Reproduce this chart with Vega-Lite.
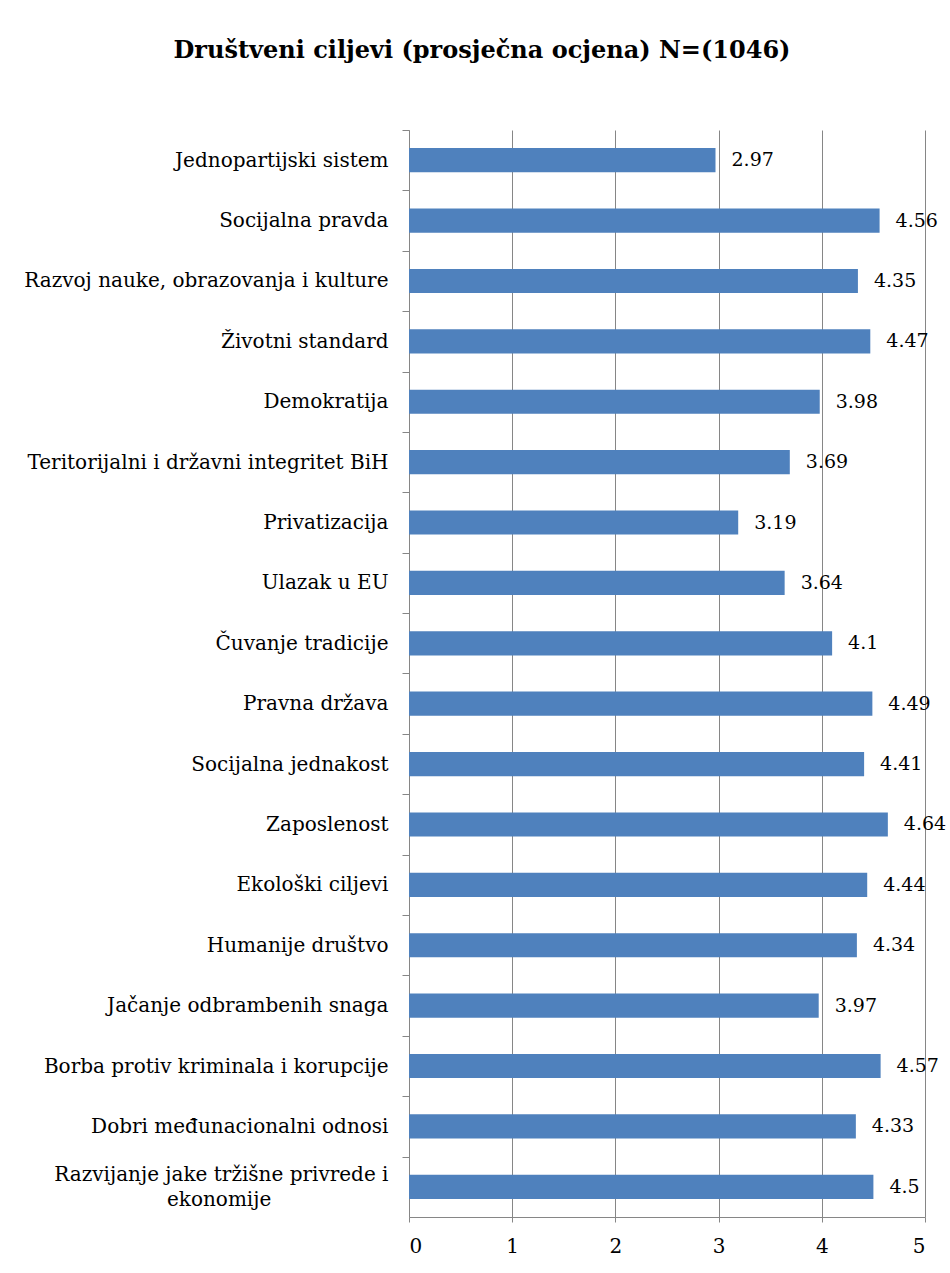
{
  "$schema": "https://vega.github.io/schema/vega-lite/v6.json",
  "width": 516,
  "height": 1087,
  "autosize": {"type": "none"},
  "padding": {"left": 409, "top": 130, "right": 25, "bottom": 56},
  "background": "white",
  "title": {
    "text": "Društveni  ciljevi (prosječna ocjena) N=(1046)",
    "font": "DejaVu Serif",
    "fontSize": 24,
    "fontWeight": "bold",
    "color": "black",
    "anchor": "middle",
    "dx": -185,
    "offset": 43,
    "baseline": "bottom"
  },
  "data": {
    "values": [
      {"goal": "Jednopartijski sistem", "value": 2.97},
      {"goal": "Socijalna pravda", "value": 4.56},
      {"goal": "Razvoj nauke, obrazovanja i kulture", "value": 4.35},
      {"goal": "Životni standard", "value": 4.47},
      {"goal": "Demokratija", "value": 3.98},
      {"goal": "Teritorijalni i državni integritet BiH", "value": 3.69},
      {"goal": "Privatizacija", "value": 3.19},
      {"goal": "Ulazak u EU", "value": 3.64},
      {"goal": "Čuvanje tradicije", "value": 4.1},
      {"goal": "Pravna država", "value": 4.49},
      {"goal": "Socijalna jednakost", "value": 4.41},
      {"goal": "Zaposlenost", "value": 4.64},
      {"goal": "Ekološki ciljevi", "value": 4.44},
      {"goal": "Humanije društvo", "value": 4.34},
      {"goal": "Jačanje odbrambenih  snaga", "value": 3.97},
      {"goal": "Borba protiv kriminala i korupcije", "value": 4.57},
      {"goal": "Dobri međunacionalni odnosi", "value": 4.33},
      {"goal": "Razvijanje jake tržišne privrede i ekonomije", "value": 4.5}
    ]
  },
  "encoding": {
    "y": {
      "field": "goal",
      "type": "nominal",
      "sort": null,
      "scale": {"paddingInner": 0.6, "paddingOuter": 0.3},
      "axis": {
        "title": null,
        "tickOffset": -30.2,
        "tickSize": 7,
        "tickColor": "#868686",
        "domainColor": "#868686",
        "labelFont": "DejaVu Serif",
        "labelFontSize": 20,
        "labelColor": "black",
        "labelPadding": 14,
        "labelLimit": 420,
        "labelLineHeight": 25,
        "labelOffset": {"condition": {"test": "datum.value == 'Razvijanje jake tržišne privrede i ekonomije'", "value": 18.2}, "value": 30.2},
        "labelExpr": "datum.label == 'Razvijanje jake tržišne privrede i ekonomije' ? ['Razvijanje jake tržišne privrede i', 'ekonomije\u2800\u2800\u2800\u2800\u2800\u2800\u2800\u2800'] : datum.label"
      }
    },
    "x": {
      "field": "value",
      "type": "quantitative",
      "scale": {"domain": [0, 5], "nice": false},
      "axis": {
        "title": null,
        "values": [0, 1, 2, 3, 4, 5],
        "grid": true,
        "gridColor": "#868686",
        "tickColor": "#868686",
        "domainColor": "#868686",
        "tickSize": 5,
        "labelFont": "DejaVu Serif",
        "labelFontSize": 20,
        "labelColor": "black",
        "labelPadding": 14
      }
    }
  },
  "layer": [
    {"mark": {"type": "bar", "color": "#4f81bd"}},
    {
      "mark": {"type": "text", "align": "left", "dx": 16, "font": "DejaVu Serif", "fontSize": 19, "color": "black"},
      "encoding": {"text": {"field": "value", "type": "quantitative"}}
    }
  ],
  "config": {"view": {"stroke": null}}
}
